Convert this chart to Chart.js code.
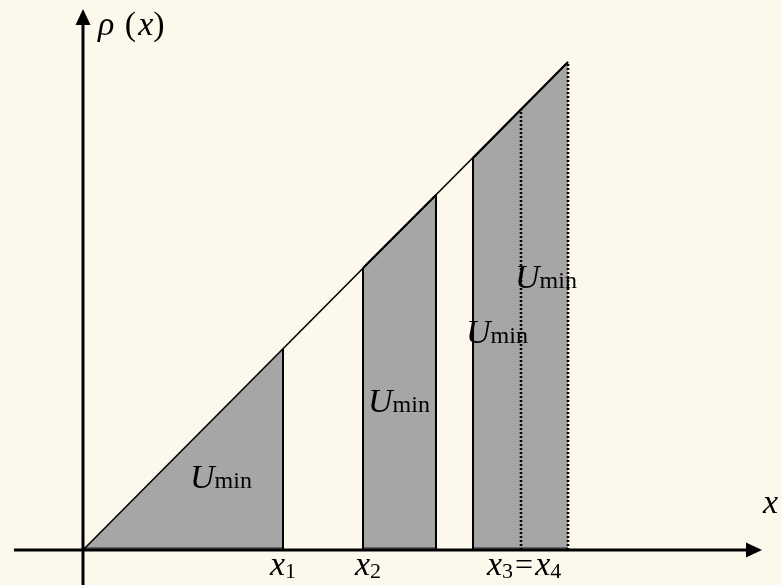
<!DOCTYPE html>
<html>
<head>
<meta charset="utf-8">
<script src="https://cdn.jsdelivr.net/npm/chart.js@4/dist/chart.umd.min.js"></script>
<style>
  html, body { margin: 0; padding: 0; background: #fcf8ec; }
  #wrap { width: 782px; height: 585px; }
</style>
</head>
<body>
<div id="wrap"><canvas id="c" width="782" height="585"></canvas></div>
<script>
// Density rho(x): straight line through the origin
const lineX = [0, 485];
const lineY = [0, 488];

// Shaded bands of equal area U_min: [start, end] on x and rho at each edge
const bandStartX = [0, 280, 390];
const bandEndX   = [200, 353, 485];
const bandStartY = [0, 282, 392];
const bandEndY   = [201, 355, 488];

// Edges drawn inside the bands (x, height, dotted?)
const edgeX      = [200, 280, 353, 390, 438, 485];
const edgeY      = [201, 282, 355, 392, 441, 488];
const edgeDotted = [false, false, false, false, true, true];

// Axis extents
const xAxisRange = [-69, 679];
const yAxisRange = [-40, 541];

// Text labels: position in data units
const umLabelX = [107, 285, 383, 432];
const umLabelY = [62, 138, 207, 262];
const tickLabels = [
  { parts: [['x', 'i'], ['1', 's']], x: 187, y: -25 },
  { parts: [['x', 'i'], ['2', 's']], x: 272, y: -25 },
  { parts: [['x', 'i'], ['3', 's'], ['=', 'e'], ['x', 'i'], ['4', 's']], x: 404, y: -25 }
];

const INK = '#000000';
const GRAY = '#a6a6a6';
const BG = '#fcf8ec';

const datasets = [];
bandStartX.forEach((sx, i) => {
  datasets.push({
    data: [{ x: sx, y: bandStartY[i] }, { x: bandEndX[i], y: bandEndY[i] }],
    borderColor: INK,
    borderWidth: i === 0 ? 0 : 2.2,
    backgroundColor: GRAY,
    fill: 'origin',
    pointRadius: 0,
    showLine: true,
    order: 10
  });
  // thin outline along the base of each band
  datasets.push({
    data: [{ x: sx, y: 2 }, { x: bandEndX[i], y: 2 }],
    borderColor: '#222',
    borderWidth: 1,
    pointRadius: 0,
    showLine: true,
    fill: false,
    order: 5
  });
});
edgeX.forEach((ex, i) => {
  datasets.push({
    data: [{ x: ex, y: 0 }, { x: ex, y: edgeY[i] }],
    borderColor: INK,
    borderWidth: edgeDotted[i] ? 2.6 : 2,
    borderDash: edgeDotted[i] ? [2, 2] : [],
    pointRadius: 0,
    showLine: true,
    fill: false,
    order: 2
  });
});
datasets.push({
  data: lineX.map((x, i) => ({ x, y: lineY[i] })),
  borderColor: INK,
  borderWidth: 1.6,
  pointRadius: 0,
  showLine: true,
  fill: false,
  order: 1
});

const SERIF = '"Liberation Serif", "DejaVu Serif", serif';

function drawParts(ctx, parts, px, py) {
  let cx = px;
  parts.forEach(([t, kind]) => {
    let font, dy = 0, pad = 0;
    if (kind === 'i') font = 'italic 34px ' + SERIF;
    else if (kind === 's') { font = '22px ' + SERIF; dy = 3; }
    else if (kind === 'm') font = '24px ' + SERIF;
    else if (kind === 'U') font = 'italic 34px ' + SERIF;
    else if (kind === 'e') { font = '32px ' + SERIF; pad = 2; }
    else if (kind === 'p') { font = '34px ' + SERIF; pad = 2; }
    else font = '34px ' + SERIF;
    ctx.font = font;
    cx += pad;
    ctx.fillText(t, cx, py + dy);
    cx += ctx.measureText(t).width + pad;
  });
}

const decor = {
  id: 'decor',
  beforeDraw(chart) {
    const ctx = chart.ctx;
    ctx.save();
    ctx.fillStyle = BG;
    ctx.fillRect(0, 0, chart.width, chart.height);
    ctx.restore();
  },
  afterDatasetsDraw(chart) {
    const ctx = chart.ctx;
    const xs = chart.scales.x, ys = chart.scales.y;
    const ox = xs.getPixelForValue(0), oy = ys.getPixelForValue(0);
    ctx.save();
    ctx.strokeStyle = INK;
    ctx.fillStyle = INK;
    ctx.lineWidth = 3;
    // horizontal axis
    const xl = xs.getPixelForValue(xAxisRange[0]);
    const xr = xs.getPixelForValue(xAxisRange[1]);
    ctx.beginPath();
    ctx.moveTo(xl, oy); ctx.lineTo(xr - 12, oy); ctx.stroke();
    ctx.beginPath();
    ctx.moveTo(xr, oy); ctx.lineTo(xr - 16, oy - 7.5); ctx.lineTo(xr - 16, oy + 7.5); ctx.closePath(); ctx.fill();
    // vertical axis
    const yb = ys.getPixelForValue(yAxisRange[0]);
    const yt = ys.getPixelForValue(yAxisRange[1]);
    ctx.beginPath();
    ctx.moveTo(ox, yb); ctx.lineTo(ox, yt + 12); ctx.stroke();
    ctx.beginPath();
    ctx.moveTo(ox, yt); ctx.lineTo(ox - 7.5, yt + 16); ctx.lineTo(ox + 7.5, yt + 16); ctx.closePath(); ctx.fill();

    ctx.textBaseline = 'alphabetic';
    ctx.textAlign = 'left';
    // U_min labels
    umLabelX.forEach((lx, i) => {
      drawParts(ctx, [['U', 'U'], ['min', 'm']], xs.getPixelForValue(lx), ys.getPixelForValue(umLabelY[i]));
    });
    // tick labels under the axis
    tickLabels.forEach(l => drawParts(ctx, l.parts, xs.getPixelForValue(l.x), ys.getPixelForValue(l.y)));
    // axis titles
    drawParts(ctx, [['\u03C1', 'i'], [' (', 'p'], ['x', 'i'], [')', 'u']], xs.getPixelForValue(15), ys.getPixelForValue(515));
    drawParts(ctx, [['x', 'i']], xs.getPixelForValue(680), ys.getPixelForValue(37));
    ctx.restore();
  }
};

new Chart(document.getElementById('c'), {
  type: 'scatter',
  data: { datasets },
  options: {
    responsive: false,
    animation: false,
    events: [],
    layout: { padding: 0 },
    plugins: { legend: { display: false }, tooltip: { enabled: false }, title: { display: false } },
    scales: {
      x: { type: 'linear', display: false, min: -83, max: 699 },
      y: { type: 'linear', display: false, min: -35, max: 550 }
    }
  },
  plugins: [decor]
});
</script>
</body>
</html>
